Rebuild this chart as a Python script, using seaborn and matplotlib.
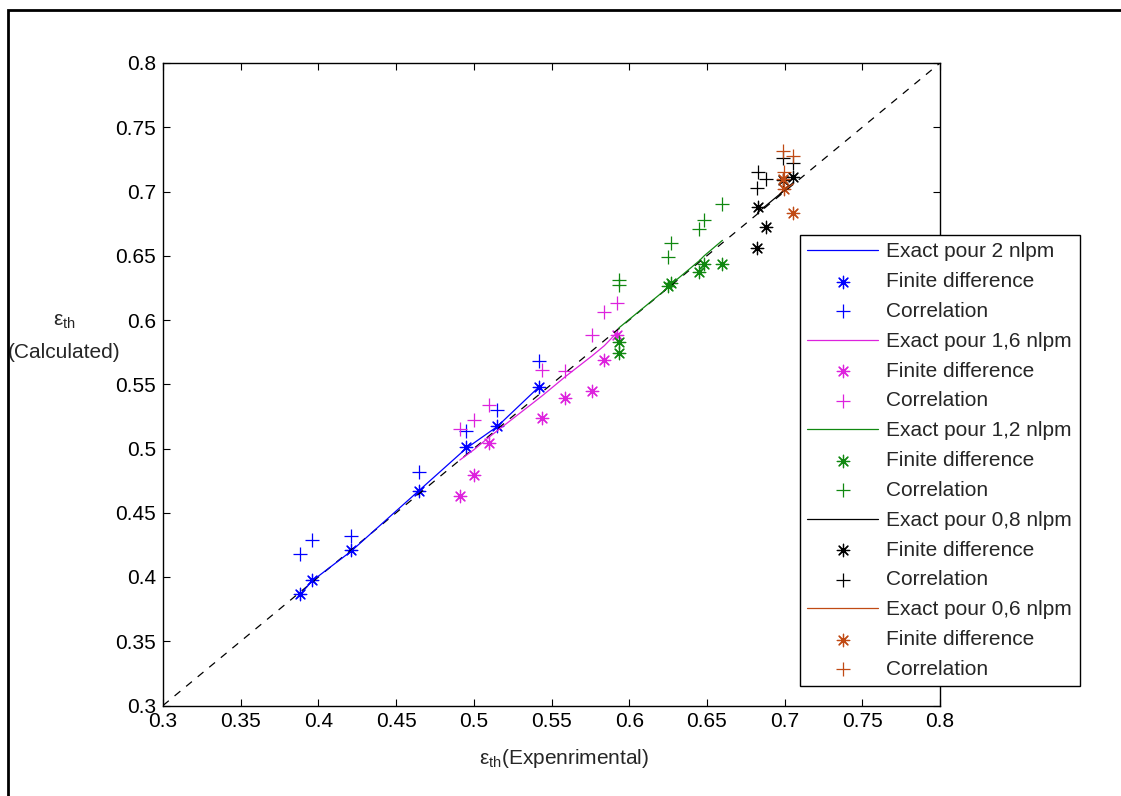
import numpy as np
import matplotlib
matplotlib.use("Agg")
import matplotlib.pyplot as plt
import seaborn as sns
from matplotlib.patches import Rectangle

# ---- data ----
diag = [0.3, 0.8]

x_2 = [0.388, 0.396, 0.421, 0.4645, 0.495, 0.515, 0.542]
exact_2 = [0.386, 0.397, 0.420, 0.467, 0.500, 0.517, 0.548]
fd_2 = [0.387, 0.398, 0.421, 0.467, 0.501, 0.5175, 0.548]
corr_2 = [0.418, 0.4285, 0.4316, 0.4817, 0.514, 0.530, 0.568]

x_16 = [0.491, 0.500, 0.510, 0.544, 0.559, 0.576, 0.584, 0.592]
exact_16 = [0.491, 0.499, 0.509, 0.541, 0.556, 0.572, 0.580, 0.590]
fd_16 = [0.463, 0.4797, 0.504, 0.524, 0.539, 0.545, 0.569, 0.588]
corr_16 = [0.515, 0.522, 0.534, 0.561, 0.560, 0.5885, 0.6066, 0.6130]

x_12 = [0.5934, 0.5935, 0.6248, 0.6272, 0.645, 0.6483, 0.660]
exact_12 = [0.593, 0.594, 0.625, 0.628, 0.646, 0.650, 0.662]
fd_12 = [0.583, 0.574, 0.6265, 0.629, 0.6372, 0.6438, 0.6438]
corr_12 = [0.631, 0.627, 0.649, 0.660, 0.671, 0.6777, 0.690]

x_08 = [0.6825, 0.683, 0.688, 0.699, 0.7056]
exact_08 = [0.683, 0.684, 0.689, 0.700, 0.707]
fd_08 = [0.656, 0.688, 0.6725, 0.709, 0.7114]
corr_08 = [0.703, 0.715, 0.710, 0.7257, 0.7218]

x_06 = [0.699, 0.6995, 0.7056]
exact_06 = [0.700, 0.701, 0.706]
fd_06 = [0.710, 0.702, 0.683]
corr_06 = [0.7315, 0.715, 0.7278]

flow_labels = ["2", "1,6", "1,2", "0,8", "0,6"]
colors = ["#0000ff", "#dd22dd", "#108810", "#000000", "#c04a14"]

sns.set_style("white")
plt.rcParams["font.family"] = ["Liberation Sans", "DejaVu Sans"]
plt.rcParams["mathtext.fontset"] = "custom"
plt.rcParams["mathtext.rm"] = "Liberation Sans"
plt.rcParams["mathtext.it"] = "Liberation Sans"
plt.rcParams["mathtext.default"] = "regular"

FS = 15

fig = plt.figure(figsize=(11.21, 7.96), dpi=100)
ax = fig.add_axes([163 / 1121, 1 - 705.5 / 796, 777 / 1121, 642.5 / 796])

# outer frame of the original figure window
fig.patches.append(Rectangle((8 / 1121, -0.2), 1.2, 0.2 + (1 - 10 / 796),
                             transform=fig.transFigure, fill=False,
                             edgecolor="black", linewidth=2))

sns.lineplot(x=diag, y=diag, ax=ax, color="black", linestyle=(0, (6, 6)),
             linewidth=0.9, label="_nolegend_")

series = [
    (x_2, exact_2, fd_2, corr_2),
    (x_16, exact_16, fd_16, corr_16),
    (x_12, exact_12, fd_12, corr_12),
    (x_08, exact_08, fd_08, corr_08),
    (x_06, exact_06, fd_06, corr_06),
]

star = (8, 2, 0)
for (xs, ex, fd, co), flow, c in zip(series, flow_labels, colors):
    sns.lineplot(x=xs, y=ex, ax=ax, color=c, linewidth=0.9, sort=True,
                 estimator=None, label=f"Exact pour {flow} nlpm")
    sns.scatterplot(x=xs, y=fd, ax=ax, color=c, marker=star, s=80,
                    linewidth=0.9, label="Finite difference")
    sns.scatterplot(x=xs, y=co, ax=ax, color=c, marker="+", s=110,
                    linewidth=0.9, label="Correlation")

ax.set_xlim(0.3, 0.8)
ax.set_ylim(0.3, 0.8)
ticks = np.round(np.arange(0.3, 0.81, 0.05), 2)
ax.set_xticks(ticks)
ax.set_yticks(ticks)
ax.set_xticklabels([f"{t:g}" for t in ticks])
ax.set_yticklabels([f"{t:g}" for t in ticks])
ax.tick_params(direction="in", length=5, width=0.8, labelsize=FS,
               top=True, right=True, bottom=True, left=True, pad=5, colors="black")
for sp in ax.spines.values():
    sp.set_visible(True)
    sp.set_color("black")
    sp.set_linewidth(1.0)

ax.set_xlabel(r"$\varepsilon_{th}$(Expenrimental)", fontsize=FS, labelpad=14)
ax.xaxis.set_label_coords(0.516, -0.065)
ax.set_ylabel(r"$\varepsilon_{th}$" + "\n(Calculated)", fontsize=FS,
              rotation=0, ha="center", va="center", linespacing=1.8)
ax.yaxis.set_label_coords(-0.127, 0.573)

leg = ax.legend(loc="upper left", bbox_to_anchor=(800 / 1121, 1 - 235 / 796),
                bbox_transform=fig.transFigure, fontsize=FS, frameon=True,
                fancybox=False, edgecolor="black", framealpha=1,
                handlelength=3.4, handletextpad=0.4, borderpad=0.35,
                labelspacing=0.52, scatterpoints=1, borderaxespad=0)
leg.get_frame().set_linewidth(1.0)

fig.savefig("out.png", dpi=100)
